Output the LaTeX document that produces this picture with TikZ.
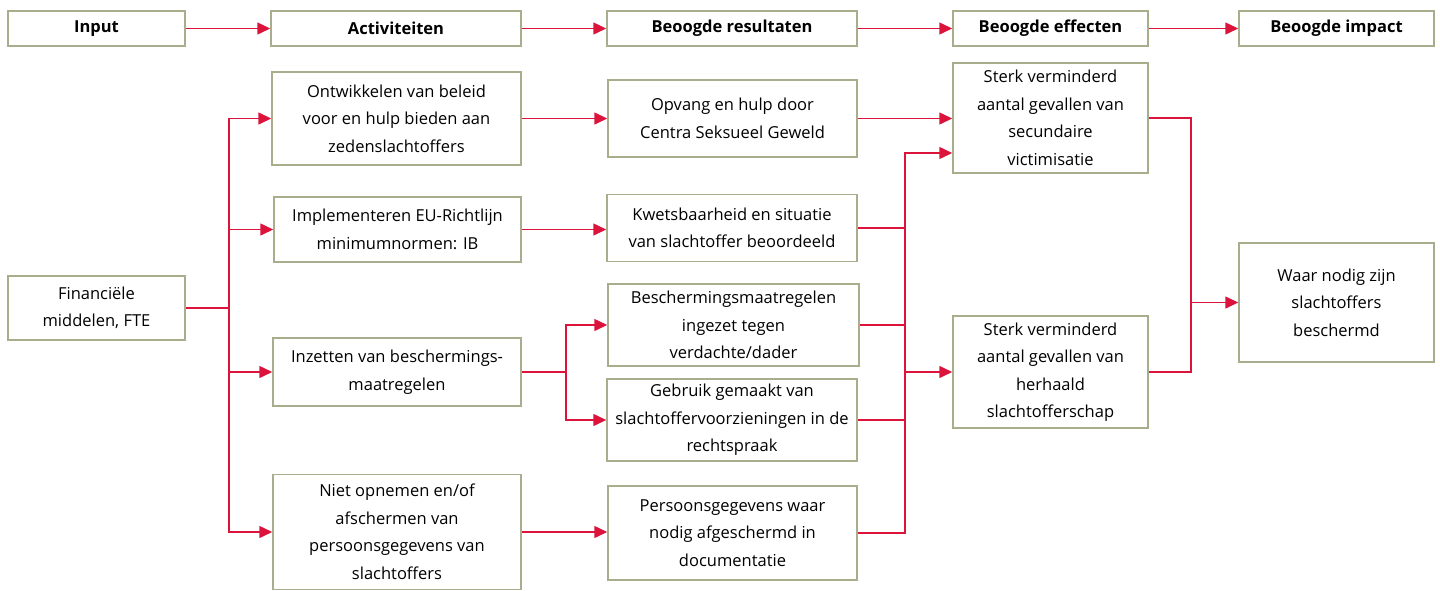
\documentclass[tikz,border=0pt]{standalone}
\usepackage{fontspec}
\setmainfont{Open Sans}
\usetikzlibrary{calc, arrows.meta, positioning}
\definecolor{boxline}{HTML}{A8AE8C}
\definecolor{linkred}{HTML}{DC143C}

\begin{document}
\begin{tikzpicture}[x=1pt, y=-1pt,
    box/.style={draw=boxline, line width=1.5pt, fill=white, align=center, inner sep=2pt,
        font=\fontsize{16.5}{27.5}\selectfont},
    head/.style={box, minimum height=35pt, font=\fontsize{16.5}{20}\selectfont\bfseries},
    link/.style={draw=linkred, line width=1.5pt},
    arr/.style={link, -{Triangle[length=13pt, width=12pt]}}]
    \useasboundingbox (0,0) rectangle (1440,590);
    % header row
    \node[head, minimum width=177pt] (input) at (96.5, 28.5) {Input};
    \node[head, minimum width=250pt] (act) at (396, 28.5) {Activiteiten};
    \node[head, minimum width=250pt] (res) at (732, 28.5) {Beoogde resultaten};
    \node[head, minimum width=195pt] (eff) at (1050.5, 28.5) {Beoogde effecten};
    \node[head, minimum width=195pt] (imp) at (1336.5, 28.5) {Beoogde impact};
    \draw[arr] (input) -- (act);
    \draw[arr] (act) -- (res);
    \draw[arr] (res) -- (eff);
    \draw[arr] (eff) -- (imp);
    % input
    \node[box, minimum width=177pt, minimum height=64pt] (fin) at (96.5, 308) {Financiële\\middelen, FTE};
    % activiteiten
    \node[box, minimum width=249pt, minimum height=93pt] (a1) at (396.5, 118.5) {Ontwikkelen van beleid\\voor en hulp bieden aan\\zedenslachtoffers};
    \node[box, minimum width=247pt, minimum height=65pt] (a2) at (397.5, 229.5) {Implementeren EU-Richtlijn\\minimumnormen: IB};
    \node[box, minimum width=248pt, minimum height=68pt] (a3) at (397, 372) {Inzetten van beschermings-\\maatregelen};
    \node[box, minimum width=248pt, minimum height=115pt] (a4) at (397, 532) {Niet opnemen en/of\\afschermen van\\persoonsgegevens van\\slachtoffers};
    % resultaten
    \node[box, minimum width=249pt, minimum height=77pt] (r1) at (732.5, 118.5) {Opvang en hulp door\\Centra Seksueel Geweld};
    \node[box, minimum width=250pt, minimum height=67pt] (r2) at (732, 228) {Kwetsbaarheid en situatie\\van slachtoffer beoordeeld};
    \node[box, minimum width=251pt, minimum height=82pt] (r3) at (733.5, 325) {Beschermingsmaatregelen\\ingezet tegen\\verdachte/dader};
    \node[box, minimum width=250pt, minimum height=82pt] (r4) at (732, 420) {Gebruik gemaakt van\\slachtoffervoorzieningen in de\\rechtspraak};
    \node[box, minimum width=249pt, minimum height=94pt] (r5) at (732.5, 533) {Persoonsgegevens waar\\nodig afgeschermd in\\documentatie};
    % effecten en impact
    \node[box, minimum width=195pt, minimum height=110pt] (e1) at (1050.5, 118) {Sterk verminderd\\aantal gevallen van\\secundaire\\victimisatie};
    \node[box, minimum width=195pt, minimum height=112pt] (e2) at (1050.5, 372) {Sterk verminderd\\aantal gevallen van\\herhaald\\slachtofferschap};
    \node[box, minimum width=195pt, minimum height=119pt] (i) at (1336.5, 302.5) {Waar nodig zijn\\slachtoffers\\beschermd};
    % verbindingen
    \coordinate (split1) at (229, 308);
    \coordinate (split2) at (566, 372);
    \coordinate (join1) at (905, 0);
    \coordinate (join2) at (1191, 0);
    \draw[link] (fin.east) -- (split1);
    \draw[arr] (split1) |- (a1.west);
    \draw[arr] (split1) |- (a2.west);
    \draw[arr] (split1) |- (a3.west);
    \draw[arr] (split1) |- (a4.west);
    \draw[arr] (a1) -- (r1);
    \draw[arr] (a2.east) -- (a2.east -| r2.west);
    \draw[link] (a3.east) -- (split2);
    \draw[arr] (split2) |- (r3.west);
    \draw[arr] (split2) |- (r4.west);
    \draw[arr] (a4.east) -- (a4.east -| r5.west);
    \draw[arr] (r1) -- (r1 -| e1.west);
    \draw[link] (r2.east) -- (r2.east -| join1);
    \draw[link] (r3.east) -- (r3.east -| join1);
    \draw[link] (r4.east) -- (r4.east -| join1);
    \draw[arr] (r5.east) -| ([yshift=-35pt]e1.west -| join1) -- ([yshift=-35pt]e1.west);
    \draw[arr] (e2.west -| join1) -- (e2.west);
    \draw[link] (e1.east) -| (e2.east -| join2) -- (e2.east);
    \draw[arr] (i.west -| join2) -- (i.west);
\end{tikzpicture}
\end{document}
